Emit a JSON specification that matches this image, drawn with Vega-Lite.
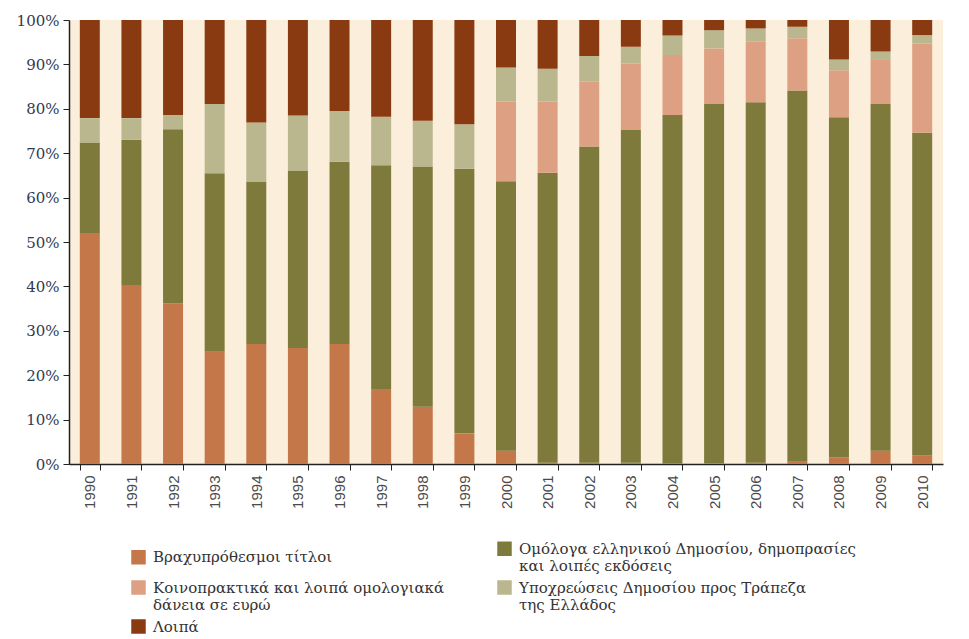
{
  "$schema": "https://vega.github.io/schema/vega-lite/v6.json",
  "width": 874,
  "height": 444,
  "autosize": {"type": "none"},
  "padding": {"left": 69, "top": 20, "right": 26, "bottom": 175},
  "background": "white",
  "config": {
    "view": {"fill": "#FBEEDB", "stroke": null}
  },
  "datasets": {
    "stackOrder": [
      {"series": "Βραχυπρόθεσμοι τίτλοι", "rank": 1},
      {"series": "Ομόλογα ελληνικού Δημοσίου, δημοπρασίες και λοιπές εκδόσεις", "rank": 2},
      {"series": "Κοινοπρακτικά και λοιπά ομολογιακά δάνεια σε ευρώ", "rank": 3},
      {"series": "Υποχρεώσεις Δημοσίου προς Τράπεζα της Ελλάδος", "rank": 4},
      {"series": "Λοιπά", "rank": 5}
    ]
  },
  "data": {
    "values": [
      {"year": "1990", "Βραχυπρόθεσμοι τίτλοι": 52.0, "Ομόλογα ελληνικού Δημοσίου, δημοπρασίες και λοιπές εκδόσεις": 20.4, "Κοινοπρακτικά και λοιπά ομολογιακά δάνεια σε ευρώ": 0, "Υποχρεώσεις Δημοσίου προς Τράπεζα της Ελλάδος": 5.5, "Λοιπά": 22.1},
      {"year": "1991", "Βραχυπρόθεσμοι τίτλοι": 40.3, "Ομόλογα ελληνικού Δημοσίου, δημοπρασίες και λοιπές εκδόσεις": 32.7, "Κοινοπρακτικά και λοιπά ομολογιακά δάνεια σε ευρώ": 0, "Υποχρεώσεις Δημοσίου προς Τράπεζα της Ελλάδος": 4.9, "Λοιπά": 22.1},
      {"year": "1992", "Βραχυπρόθεσμοι τίτλοι": 36.2, "Ομόλογα ελληνικού Δημοσίου, δημοπρασίες και λοιπές εκδόσεις": 39.2, "Κοινοπρακτικά και λοιπά ομολογιακά δάνεια σε ευρώ": 0, "Υποχρεώσεις Δημοσίου προς Τράπεζα της Ελλάδος": 3.2, "Λοιπά": 21.4},
      {"year": "1993", "Βραχυπρόθεσμοι τίτλοι": 25.3, "Ομόλογα ελληνικού Δημοσίου, δημοπρασίες και λοιπές εκδόσεις": 40.2, "Κοινοπρακτικά και λοιπά ομολογιακά δάνεια σε ευρώ": 0, "Υποχρεώσεις Δημοσίου προς Τράπεζα της Ελλάδος": 15.6, "Λοιπά": 18.9},
      {"year": "1994", "Βραχυπρόθεσμοι τίτλοι": 27.0, "Ομόλογα ελληνικού Δημοσίου, δημοπρασίες και λοιπές εκδόσεις": 36.6, "Κοινοπρακτικά και λοιπά ομολογιακά δάνεια σε ευρώ": 0, "Υποχρεώσεις Δημοσίου προς Τράπεζα της Ελλάδος": 13.3, "Λοιπά": 23.1},
      {"year": "1995", "Βραχυπρόθεσμοι τίτλοι": 26.1, "Ομόλογα ελληνικού Δημοσίου, δημοπρασίες και λοιπές εκδόσεις": 40.0, "Κοινοπρακτικά και λοιπά ομολογιακά δάνεια σε ευρώ": 0, "Υποχρεώσεις Δημοσίου προς Τράπεζα της Ελλάδος": 12.4, "Λοιπά": 21.5},
      {"year": "1996", "Βραχυπρόθεσμοι τίτλοι": 27.0, "Ομόλογα ελληνικού Δημοσίου, δημοπρασίες και λοιπές εκδόσεις": 41.1, "Κοινοπρακτικά και λοιπά ομολογιακά δάνεια σε ευρώ": 0, "Υποχρεώσεις Δημοσίου προς Τράπεζα της Ελλάδος": 11.4, "Λοιπά": 20.5},
      {"year": "1997", "Βραχυπρόθεσμοι τίτλοι": 16.9, "Ομόλογα ελληνικού Δημοσίου, δημοπρασίες και λοιπές εκδόσεις": 50.4, "Κοινοπρακτικά και λοιπά ομολογιακά δάνεια σε ευρώ": 0, "Υποχρεώσεις Δημοσίου προς Τράπεζα της Ελλάδος": 10.9, "Λοιπά": 21.8},
      {"year": "1998", "Βραχυπρόθεσμοι τίτλοι": 12.9, "Ομόλογα ελληνικού Δημοσίου, δημοπρασίες και λοιπές εκδόσεις": 54.1, "Κοινοπρακτικά και λοιπά ομολογιακά δάνεια σε ευρώ": 0, "Υποχρεώσεις Δημοσίου προς Τράπεζα της Ελλάδος": 10.3, "Λοιπά": 22.7},
      {"year": "1999", "Βραχυπρόθεσμοι τίτλοι": 6.9, "Ομόλογα ελληνικού Δημοσίου, δημοπρασίες και λοιπές εκδόσεις": 59.6, "Κοινοπρακτικά και λοιπά ομολογιακά δάνεια σε ευρώ": 0, "Υποχρεώσεις Δημοσίου προς Τράπεζα της Ελλάδος": 10.0, "Λοιπά": 23.5},
      {"year": "2000", "Βραχυπρόθεσμοι τίτλοι": 3.0, "Ομόλογα ελληνικού Δημοσίου, δημοπρασίες και λοιπές εκδόσεις": 60.7, "Κοινοπρακτικά και λοιπά ομολογιακά δάνεια σε ευρώ": 17.9, "Υποχρεώσεις Δημοσίου προς Τράπεζα της Ελλάδος": 7.7, "Λοιπά": 10.7},
      {"year": "2001", "Βραχυπρόθεσμοι τίτλοι": 0.3, "Ομόλογα ελληνικού Δημοσίου, δημοπρασίες και λοιπές εκδόσεις": 65.3, "Κοινοπρακτικά και λοιπά ομολογιακά δάνεια σε ευρώ": 16.0, "Υποχρεώσεις Δημοσίου προς Τράπεζα της Ελλάδος": 7.4, "Λοιπά": 11.0},
      {"year": "2002", "Βραχυπρόθεσμοι τίτλοι": 0.3, "Ομόλογα ελληνικού Δημοσίου, δημοπρασίες και λοιπές εκδόσεις": 71.2, "Κοινοπρακτικά και λοιπά ομολογιακά δάνεια σε ευρώ": 14.6, "Υποχρεώσεις Δημοσίου προς Τράπεζα της Ελλάδος": 5.8, "Λοιπά": 8.1},
      {"year": "2003", "Βραχυπρόθεσμοι τίτλοι": 0.3, "Ομόλογα ελληνικού Δημοσίου, δημοπρασίες και λοιπές εκδόσεις": 74.9, "Κοινοπρακτικά και λοιπά ομολογιακά δάνεια σε ευρώ": 15.0, "Υποχρεώσεις Δημοσίου προς Τράπεζα της Ελλάδος": 3.8, "Λοιπά": 6.0},
      {"year": "2004", "Βραχυπρόθεσμοι τίτλοι": 0.2, "Ομόλογα ελληνικού Δημοσίου, δημοπρασίες και λοιπές εκδόσεις": 78.4, "Κοινοπρακτικά και λοιπά ομολογιακά δάνεια σε ευρώ": 13.5, "Υποχρεώσεις Δημοσίου προς Τράπεζα της Ελλάδος": 4.4, "Λοιπά": 3.5},
      {"year": "2005", "Βραχυπρόθεσμοι τίτλοι": 0.2, "Ομόλογα ελληνικού Δημοσίου, δημοπρασίες και λοιπές εκδόσεις": 81.0, "Κοινοπρακτικά και λοιπά ομολογιακά δάνεια σε ευρώ": 12.4, "Υποχρεώσεις Δημοσίου προς Τράπεζα της Ελλάδος": 4.1, "Λοιπά": 2.3},
      {"year": "2006", "Βραχυπρόθεσμοι τίτλοι": 0.3, "Ομόλογα ελληνικού Δημοσίου, δημοπρασίες και λοιπές εκδόσεις": 81.2, "Κοινοπρακτικά και λοιπά ομολογιακά δάνεια σε ευρώ": 13.6, "Υποχρεώσεις Δημοσίου προς Τράπεζα της Ελλάδος": 3.0, "Λοιπά": 1.9},
      {"year": "2007", "Βραχυπρόθεσμοι τίτλοι": 0.5, "Ομόλογα ελληνικού Δημοσίου, δημοπρασίες και λοιπές εκδόσεις": 83.6, "Κοινοπρακτικά και λοιπά ομολογιακά δάνεια σε ευρώ": 11.8, "Υποχρεώσεις Δημοσίου προς Τράπεζα της Ελλάδος": 2.6, "Λοιπά": 1.5},
      {"year": "2008", "Βραχυπρόθεσμοι τίτλοι": 1.5, "Ομόλογα ελληνικού Δημοσίου, δημοπρασίες και λοιπές εκδόσεις": 76.6, "Κοινοπρακτικά και λοιπά ομολογιακά δάνεια σε ευρώ": 10.6, "Υποχρεώσεις Δημοσίου προς Τράπεζα της Ελλάδος": 2.4, "Λοιπά": 8.9},
      {"year": "2009", "Βραχυπρόθεσμοι τίτλοι": 3.0, "Ομόλογα ελληνικού Δημοσίου, δημοπρασίες και λοιπές εκδόσεις": 78.2, "Κοινοπρακτικά και λοιπά ομολογιακά δάνεια σε ευρώ": 9.8, "Υποχρεώσεις Δημοσίου προς Τράπεζα της Ελλάδος": 1.9, "Λοιπά": 7.1},
      {"year": "2010", "Βραχυπρόθεσμοι τίτλοι": 2.0, "Ομόλογα ελληνικού Δημοσίου, δημοπρασίες και λοιπές εκδόσεις": 72.6, "Κοινοπρακτικά και λοιπά ομολογιακά δάνεια σε ευρώ": 20.1, "Υποχρεώσεις Δημοσίου προς Τράπεζα της Ελλάδος": 1.9, "Λοιπά": 3.4}
    ]
  },
  "transform": [
    {
      "fold": [
        "Βραχυπρόθεσμοι τίτλοι",
        "Ομόλογα ελληνικού Δημοσίου, δημοπρασίες και λοιπές εκδόσεις",
        "Κοινοπρακτικά και λοιπά ομολογιακά δάνεια σε ευρώ",
        "Υποχρεώσεις Δημοσίου προς Τράπεζα της Ελλάδος",
        "Λοιπά"
      ],
      "as": ["series", "share"]
    },
    {
      "lookup": "series",
      "from": {"data": {"name": "stackOrder"}, "key": "series", "fields": ["rank"]}
    }
  ],
  "mark": {"type": "bar"},
  "encoding": {
    "x": {
      "field": "year",
      "type": "ordinal",
      "scale": {"paddingInner": 0.52, "paddingOuter": 0.26},
      "axis": {
        "title": null,
        "labelAngle": -90,
        "labelAlign": "right",
        "labelBaseline": "middle",
        "labelFont": "Liberation Sans",
        "labelFontSize": 15,
        "labelColor": "#4a4a4a",
        "labelPadding": 5,
        "tickBand": "extent",
        "tickSize": 6,
        "tickColor": "#222222",
        "domainColor": "#222222",
        "domainWidth": 1.5
      }
    },
    "y": {
      "field": "share",
      "type": "quantitative",
      "stack": "normalize",
      "scale": {"domain": [0, 1], "nice": false},
      "axis": {
        "title": null,
        "values": [0, 0.1, 0.2, 0.3, 0.4, 0.5, 0.6, 0.7, 0.8, 0.9, 1],
        "format": ".0%",
        "grid": false,
        "labelFont": "DejaVu Serif",
        "labelFontSize": 15,
        "labelColor": "#2f3a52",
        "labelPadding": 4,
        "tickSize": 6,
        "tickColor": "#222222",
        "domainColor": "#222222",
        "domainWidth": 1.5
      }
    },
    "order": {"field": "rank", "type": "quantitative", "sort": "ascending"},
    "color": {
      "field": "series",
      "type": "nominal",
      "scale": {
        "domain": [
          "Βραχυπρόθεσμοι τίτλοι",
          "Ομόλογα ελληνικού Δημοσίου, δημοπρασίες και λοιπές εκδόσεις",
          "Κοινοπρακτικά και λοιπά ομολογιακά δάνεια σε ευρώ",
          "Υποχρεώσεις Δημοσίου προς Τράπεζα της Ελλάδος",
          "Λοιπά"
        ],
        "range": ["#C47749", "#7D7A3B", "#DEA083", "#BAB78E", "#8A3A10"]
      },
      "legend": {
        "title": null,
        "orient": "none",
        "direction": "horizontal",
        "legendX": 62,
        "legendY": 521,
        "columns": 2,
        "columnPadding": 52,
        "rowPadding": 6,
        "symbolType": "square",
        "symbolSize": 210,
        "symbolStrokeWidth": 0,
        "symbolOpacity": 1,
        "labelFont": "DejaVu Serif",
        "labelFontSize": 15,
        "labelColor": "#333333",
        "labelOffset": 7,
        "labelLimit": 500,
        "labelExpr": "datum.label == 'Ομόλογα ελληνικού Δημοσίου, δημοπρασίες και λοιπές εκδόσεις' ? ['Ομόλογα ελληνικού Δημοσίου, δημοπρασίες', 'και λοιπές εκδόσεις'] : datum.label == 'Κοινοπρακτικά και λοιπά ομολογιακά δάνεια σε ευρώ' ? ['Κοινοπρακτικά και λοιπά ομολογιακά', 'δάνεια σε ευρώ'] : datum.label == 'Υποχρεώσεις Δημοσίου προς Τράπεζα της Ελλάδος' ? ['Υποχρεώσεις Δημοσίου προς Τράπεζα', 'της Ελλάδος'] : datum.label"
      }
    }
  }
}
